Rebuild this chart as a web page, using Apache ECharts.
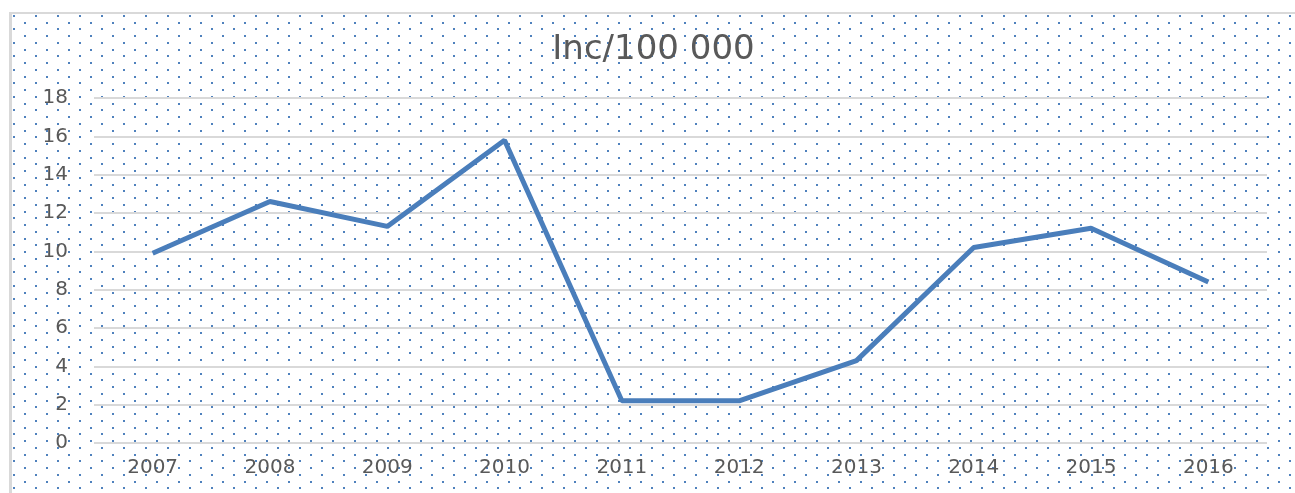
<!DOCTYPE html>
<html>
<head>
<meta charset="utf-8">
<script src="https://cdn.jsdelivr.net/npm/echarts@6/dist/echarts.min.js"></script>
<style>
  body { margin: 0; background: #fff; }
  #wrap { position: absolute; left: 9px; top: 12px; width: 1286px; height: 481px;
          border-left: 3px solid #d9d9d9; border-top: 2px solid #d9d9d9; }
  #main { width: 1283px; height: 479px; }
</style>
</head>
<body>
<div id="wrap"><div id="main"></div></div>
<script>
var years = ['2007','2008','2009','2010','2011','2012','2013','2014','2015','2016'];
var incidence = [9.9, 12.6, 11.3, 15.8, 2.2, 2.2, 4.3, 10.2, 11.2, 8.4];

// dotted fill, like the excel pattern
function dots() {
  var c = document.createElement('canvas');
  c.width = 22; c.height = 27;
  var ctx = c.getContext('2d');
  ctx.fillStyle = '#fff';
  ctx.fillRect(0, 0, 22, 27);
  ctx.fillStyle = '#4f81bd';
  ctx.fillRect(1, 1, 2, 2);
  ctx.fillRect(12, 8, 2, 2);
  ctx.fillRect(1, 14, 2, 2);
  ctx.fillRect(12, 21, 2, 2);
  return c;
}

var myChart = echarts.init(document.getElementById('main'));
var option = {
  backgroundColor: { image: dots(), repeat: 'repeat' },
  title: {
    text: 'Inc/100 000',
    left: 'center',
    top: 14,
    textStyle: { color: '#595959', fontSize: 34, fontWeight: 'normal', fontFamily: 'DejaVu Sans' }
  },
  grid: { left: 82, right: 28, top: 84, bottom: 50 },
  xAxis: {
    type: 'category',
    data: years,
    axisLine: { show: false },
    axisTick: { show: false },
    axisLabel: { color: '#595959', fontSize: 20, margin: 15, fontFamily: 'DejaVu Sans' }
  },
  yAxis: {
    type: 'value',
    min: 0,
    max: 18,
    interval: 2,
    axisLabel: { color: '#595959', fontSize: 20, margin: 26, fontFamily: 'DejaVu Sans' },
    splitLine: { lineStyle: { color: '#d9d9d9', width: 2 } }
  },
  series: [{
    name: 'Inc/100 000',
    type: 'line',
    data: incidence,
    symbol: 'none',
    lineStyle: { color: '#4a7ebb', width: 5 }
  }]
};
myChart.setOption(option);
</script>
</body>
</html>
